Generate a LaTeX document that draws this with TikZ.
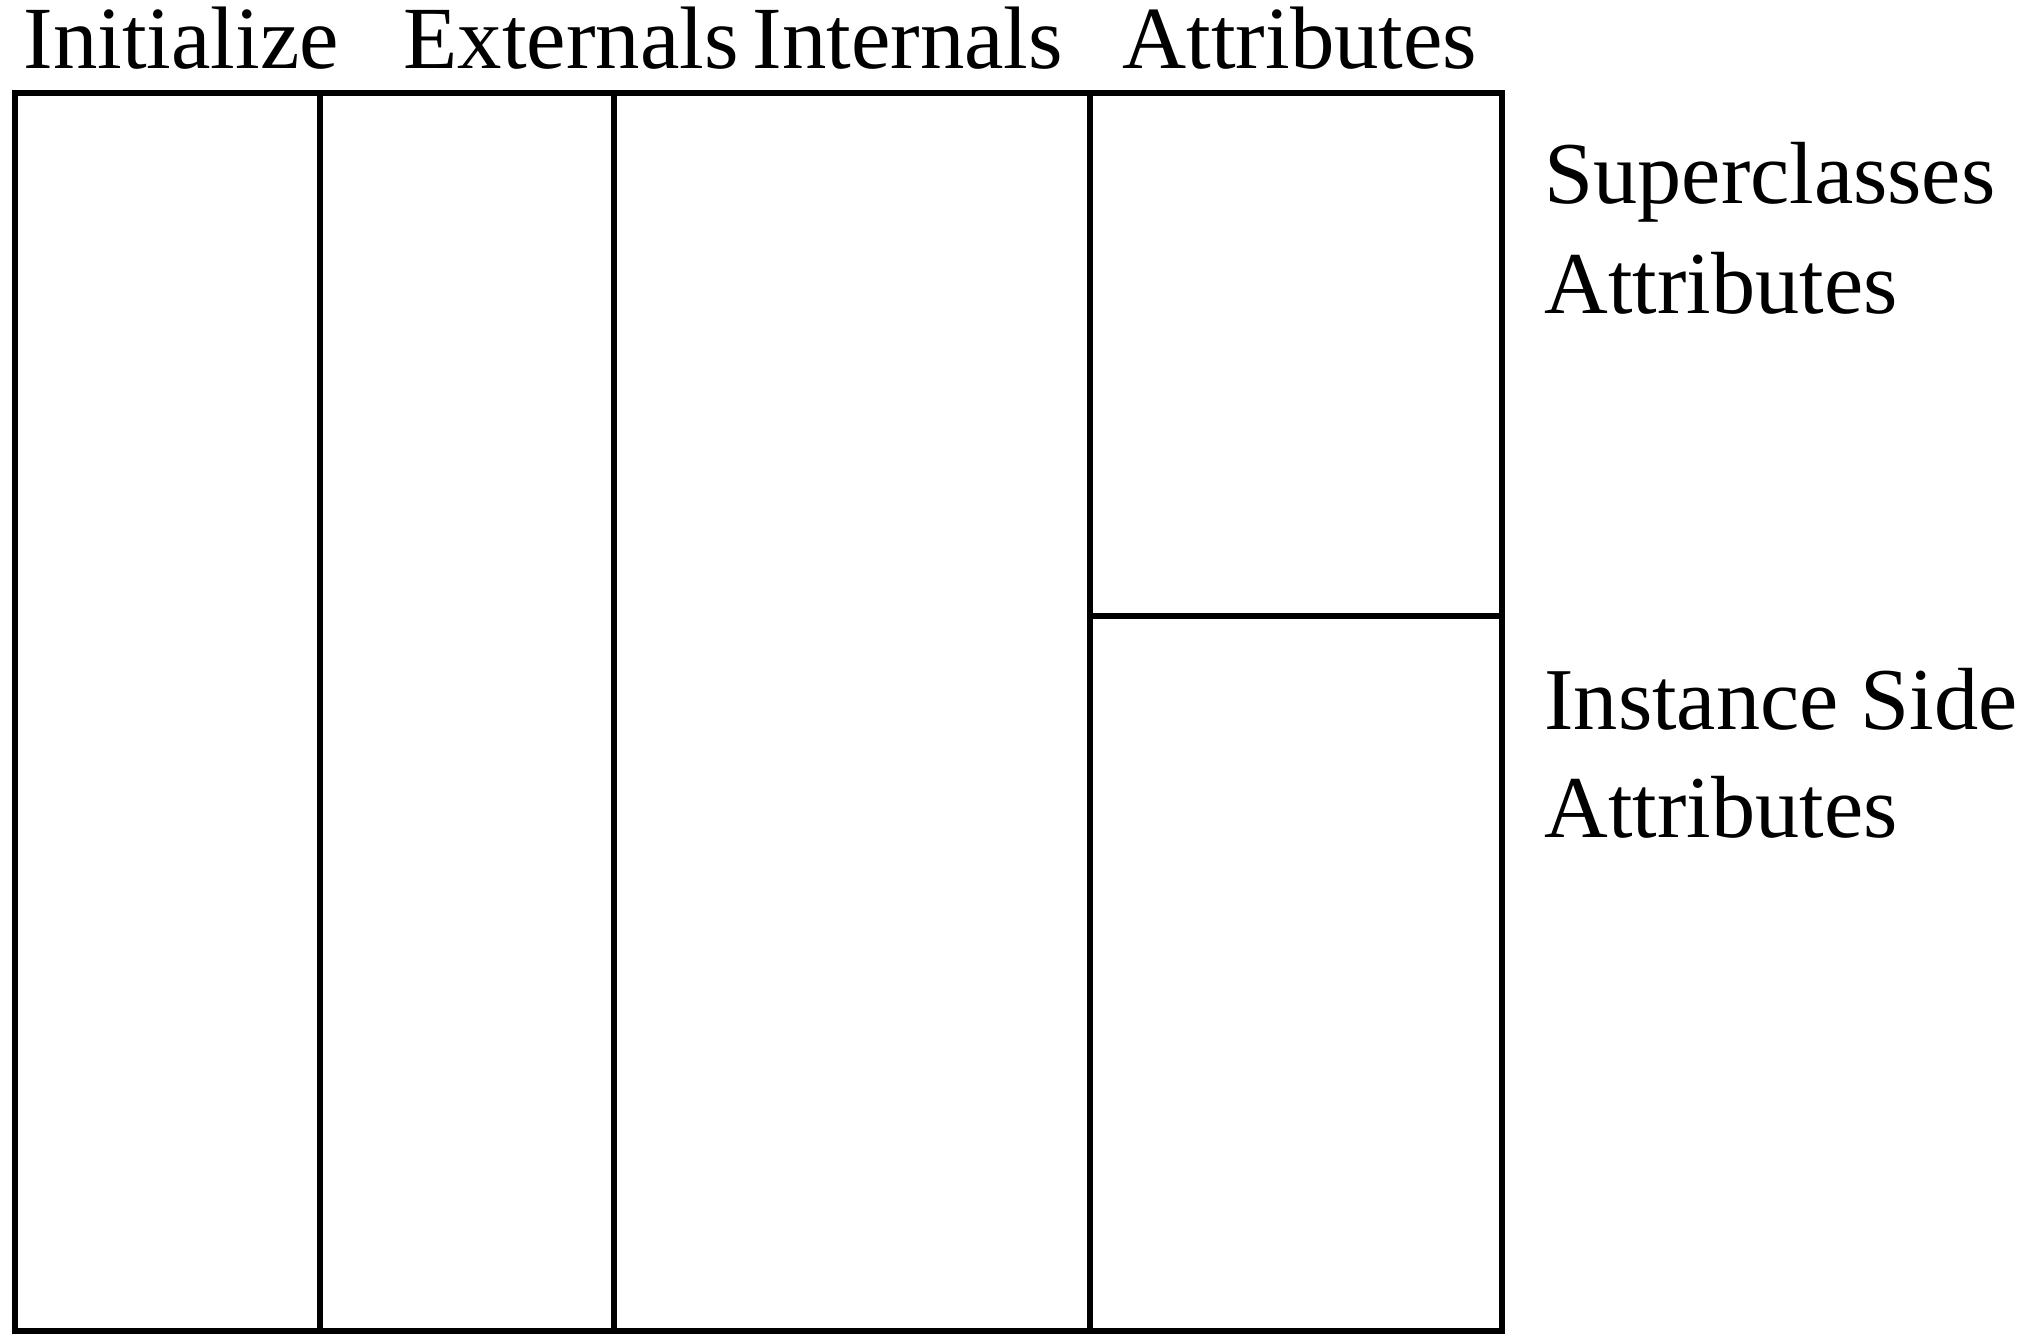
\documentclass[tikz,border=0pt]{standalone}
\usepackage{fontspec}
\setmainfont{Liberation Serif}
\begin{document}
\begin{tikzpicture}[x=0.4pt,y=-0.4pt,
  grid/.style={line width=2.2pt, black},
  head/.style={font=\fontsize{35.5}{40}\selectfont, inner sep=0pt, anchor=base west},
  side/.style={font=\fontsize{35.3}{44}\selectfont, inner sep=0pt, anchor=base west, align=left}]
\useasboundingbox[fill=white] (0,0) rectangle (2034,1339);

% outer frame and column dividers
\draw[grid] (15,93) rectangle (1502,1331);
\draw[grid] (320,93) -- (320,1331);
\draw[grid] (614,93) -- (614,1331);
\draw[grid] (1090,93) -- (1090,1331);
% split of the attributes column
\draw[grid] (1090,616) -- (1502,616);

% column headings
\node[head] (init) at (23,69) {Initialize};
\node[head] (ext)  at (403,69) {Externals};
\node[head] (int)  at (752,69) {Internals};
\node[head] (attr) at (1122,69) {Attributes};

% row labels on the right
\node[side] (super1) at (1544,204) {Superclasses};
\node[side] (super2) at (1544,314) {Attributes};
\node[side] (inst1)  at (1544,729) {Instance Side};
\node[side] (inst2)  at (1544,837) {Attributes};
\end{tikzpicture}
\end{document}
